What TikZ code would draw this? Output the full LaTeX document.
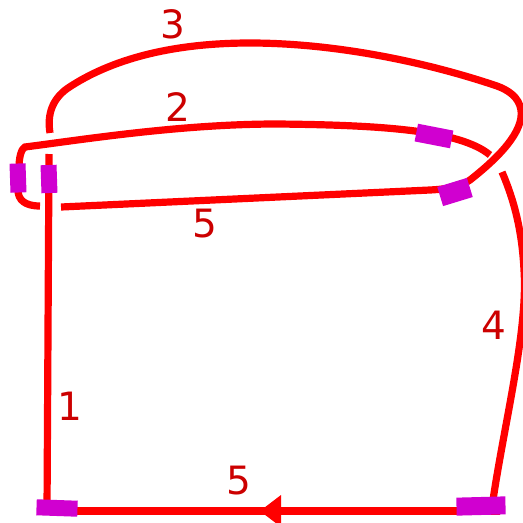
\documentclass[tikz,border=0pt]{standalone}
\usepackage{fontspec}
\setmainfont{DejaVu Sans}
\usetikzlibrary{positioning,arrows.meta,calc}

\definecolor{knotred}{RGB}{255,0,0}
\definecolor{labelred}{RGB}{204,0,0}
\definecolor{patchmag}{RGB}{208,0,208}

\begin{document}
\begin{tikzpicture}[x=1pt, y=-1pt,
  strand/.style={draw=knotred, line width=7.2pt},
  patch/.style={fill=patchmag, inner sep=0pt, rectangle},
  lab/.style={text=labelred, font=\fontsize{39}{39}\selectfont, inner sep=0pt}]
\useasboundingbox (0,0) rectangle (523,523);
% strand 1 (left side)
\draw[strand] (47,511) -- (49,154);
% strand 5 (bottom) with arrow
\draw[strand] (500,511) -- (47,511);
\fill[knotred] (260,511) -- (281,495) -- (281,527) -- cycle;
% strand 4 (right side)
\draw[strand] (493,500) .. controls (505,420) and (528,330) .. (524,270)
  .. controls (522,230) and (514,200) .. (502,172);
% strand 5 (middle) running into 3 over the top
\draw[strand] (61,207) -- (430,190) .. controls (448,189) and (460,187) .. (470,180)
  .. controls (498,158) and (524,132) .. (521,110)
  .. controls (519,97) and (508,90) .. (497,86)
  .. controls (420,60) and (330,43) .. (250,43)
  .. controls (170,43) and (110,60) .. (68,88)
  .. controls (52,99) and (47,115) .. (50,133);
% strand 2
\draw[strand] (490,155) .. controls (460,130) and (380,125) .. (277,124)
  .. controls (180,124) and (80,140) .. (25,147)
  .. controls (21,149) and (19,158) .. (19,168) -- (18,190)
  .. controls (18,200) and (25,206) .. (40,206);
% patches
\node[patch, minimum width=41pt, minimum height=16pt, rotate=-2] (pbl) at (57,508) {};
\node[patch, minimum width=49pt, minimum height=18pt, rotate=1.5] (pbr) at (481,506) {};
\node[patch, minimum width=16pt, minimum height=28pt, rotate=2] (pli) at (49,179) {};
\node[patch, minimum width=16pt, minimum height=29pt, rotate=2] (plo) at (18,178) {};
\node[patch, minimum width=36pt, minimum height=18pt, rotate=-11] (ptr) at (434,136) {};
\node[patch, minimum width=31pt, minimum height=20pt, rotate=17] (pmr) at (455,192) {};
% labels
\node[lab] (l3) at (173,24) {3};
\node[lab] (l2) at (178,107) {2};
\node[lab] (l5a) at (205,224) {5};
\node[lab] (l4) at (494,325) {4};
\node[lab] (l1) at (70,406) {1};
\node[lab] (l5b) at (239,481) {5};
\end{tikzpicture}
\end{document}
